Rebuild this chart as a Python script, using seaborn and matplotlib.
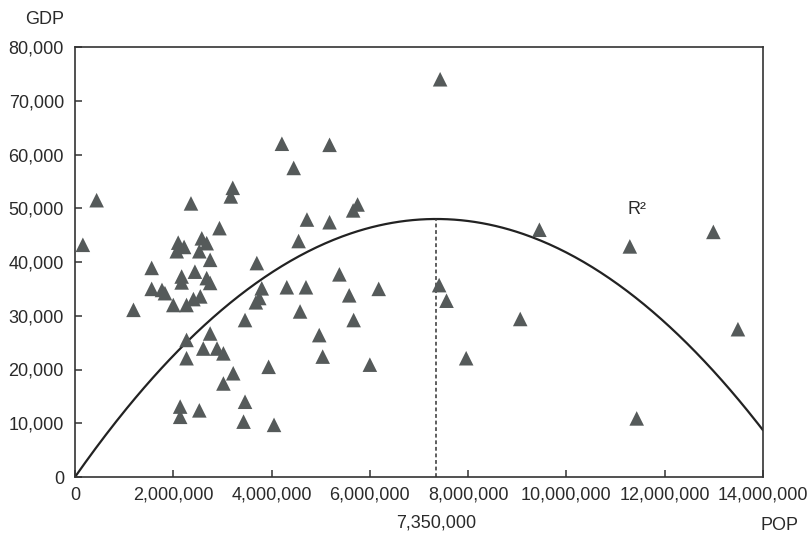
import numpy as np
import pandas as pd
import matplotlib
matplotlib.use("Agg")
import matplotlib.pyplot as plt
from matplotlib.ticker import FuncFormatter
import seaborn as sns

# Population (millions) and GDP (thousands)
pop_m = [0.16, 0.44, 1.19, 1.56, 1.56, 1.77, 1.83, 2.00, 2.17, 2.17, 2.27, 2.41,
         2.55, 2.44, 2.68, 2.75, 2.75, 2.53, 2.07, 2.22, 2.10, 2.58, 2.68, 2.94,
         2.36, 3.21, 3.17, 2.27, 2.27, 2.75, 2.61, 2.89, 3.02, 3.22, 3.02, 3.46,
         3.43, 3.70, 3.80, 3.75, 3.68, 3.46, 3.94, 4.05, 2.14, 2.14, 2.53,
         4.21, 4.45, 4.31, 4.58, 4.55, 4.72, 4.70, 4.97, 5.04, 5.18, 5.18, 5.38,
         5.58, 5.67, 5.66, 5.75, 6.00, 6.18, 7.43, 7.41, 7.56, 7.96, 9.06, 9.45,
         11.29, 11.43, 12.99, 13.49]
gdp_k = [43.2, 51.5, 31.1, 38.9, 35.0, 34.8, 34.2, 32.0, 37.3, 36.2, 32.0, 33.1,
         33.6, 38.2, 37.0, 36.1, 40.4, 42.0, 42.0, 42.8, 43.6, 44.4, 43.5, 46.3,
         50.9, 53.8, 52.2, 25.5, 22.1, 26.7, 23.9, 23.9, 23.0, 19.3, 17.4, 14.0,
         10.3, 39.8, 35.1, 33.3, 32.5, 29.2, 20.5, 9.7, 13.1, 11.2, 12.4,
         62.0, 57.5, 35.3, 30.8, 43.9, 47.9, 35.3, 26.4, 22.4, 61.8, 47.4, 37.7,
         33.8, 29.2, 49.6, 50.7, 20.9, 35.0, 74.0, 35.7, 32.8, 22.1, 29.4, 46.0,
         42.9, 10.9, 45.6, 27.5]

# Fitted quadratic (vertex form) parameters
peak_pop = 7_350_000
peak_gdp = 48_000

x_ticks = [0, 2_000_000, 4_000_000, 6_000_000, 8_000_000, 10_000_000, 12_000_000, 14_000_000]
y_ticks = [0, 10_000, 20_000, 30_000, 40_000, 50_000, 60_000, 70_000, 80_000]

df = pd.DataFrame({"POP": np.array(pop_m) * 1e6, "GDP": np.array(gdp_k) * 1e3})
xc = np.linspace(0, 14_000_000, 400)
curve = pd.DataFrame({"POP": xc,
                      "GDP": peak_gdp * (1 - ((xc - peak_pop) / peak_pop) ** 2)})

sns.set_style("ticks")
plt.rcParams["font.family"] = ["Liberation Sans", "DejaVu Sans"]

fig = plt.figure(figsize=(8.09, 5.36), dpi=100)
ax = fig.add_axes([75 / 809, 1 - 477 / 536, (763 - 75) / 809, (477 - 47) / 536])

sns.lineplot(data=curve, x="POP", y="GDP", ax=ax, color="#222222", lw=1.6)
ax.plot([peak_pop, peak_pop], [0, peak_gdp], ls=(0, (2.5, 1.8)), color="#333333", lw=1.1)
sns.scatterplot(data=df, x="POP", y="GDP", ax=ax, marker="^", s=110,
                color="#555a5a", edgecolor="none", zorder=5)

ax.set_xlim(0, 14_000_000)
ax.set_ylim(0, 80_000)
ax.set_xticks(x_ticks)
ax.set_yticks(y_ticks)
fmt = FuncFormatter(lambda v, p: f"{int(v):,}")
ax.xaxis.set_major_formatter(fmt)
ax.yaxis.set_major_formatter(fmt)
ax.tick_params(direction="in", length=5, width=1.1, color="#333333",
               labelsize=13, labelcolor="#2a2a2a")
ax.tick_params(axis="x", pad=7)
ax.tick_params(axis="y", pad=8)
for s in ax.spines.values():
    s.set_color("#333333")
    s.set_linewidth(1.2)
ax.set_xlabel("")
ax.set_ylabel("")

fig.text(45 / 809, 1 - 19 / 536, "GDP", ha="center", va="center", fontsize=13, color="#2a2a2a")
fig.text(780 / 809, 1 - 525 / 536, "POP", ha="center", va="center", fontsize=13, color="#2a2a2a")
ax.text(peak_pop, -8600, "7,350,000", ha="center", va="center", fontsize=13, color="#2a2a2a")
ax.text(11_440_000, 49_700, "R²", ha="center", va="center", fontsize=13, color="#2a2a2a")

fig.savefig("out.png", dpi=100, facecolor="white")
